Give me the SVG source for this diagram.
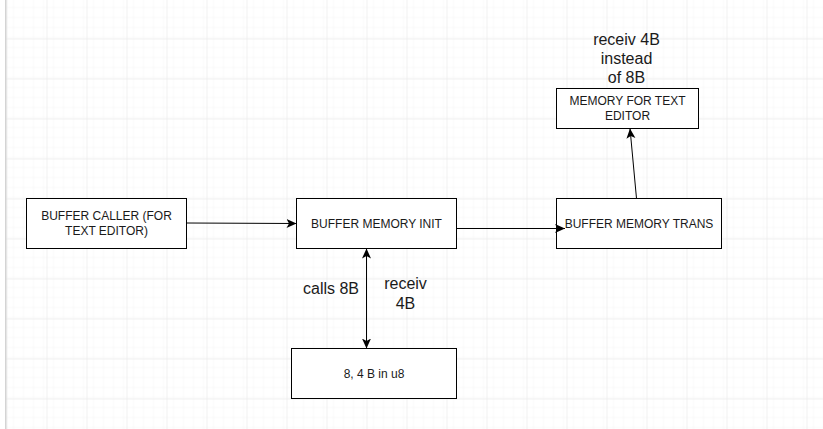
<svg xmlns="http://www.w3.org/2000/svg" width="823" height="429" viewBox="0 0 823 429">
  <style>
    .box { fill: #ffffff; stroke: #000000; stroke-width: 1; }
    .lbl { font-family: "Liberation Sans", Arial, sans-serif; font-size: 12px; fill: #1a1a1a; text-anchor: middle; }
    .edge-lbl { font-family: "Liberation Sans", Arial, sans-serif; font-size: 16px; fill: #1a1a1a; text-anchor: middle; }
    .conn { fill: none; stroke: #000000; stroke-width: 1; }
  </style>
  <defs>
    <pattern id="minor" patternUnits="userSpaceOnUse" x="6.5" y="8.5" width="10" height="10">
      <path d="M0,0 H10 M0,0 V10" stroke="#f3f3f3" stroke-width="1" fill="none"/>
    </pattern>
    <pattern id="major" patternUnits="userSpaceOnUse" x="6.5" y="-1.5" width="40" height="40">
      <rect width="40" height="40" fill="url(#minor)"/>
      <path d="M0,0 H40 M0,0 V40" stroke="#e4e4e4" stroke-width="1" fill="none"/>
    </pattern>
    <marker id="arrow" markerUnits="userSpaceOnUse" markerWidth="12" markerHeight="10" refX="10" refY="4.5" orient="auto-start-reverse" viewBox="0 0 12 10">
      <path d="M0,0 L10,4.5 L0,9 L2.5,4.5 Z" fill="#000000"/>
    </marker>
  </defs>
  <rect x="0" y="0" width="823" height="429" fill="#ffffff"/>
  <rect x="6" y="0" width="817" height="429" fill="url(#major)"/>
  <rect x="5" y="0" width="1.5" height="429" fill="#d4d4d4"/>

  <g id="edge-labels">
    <text class="edge-lbl" x="331" y="294">calls 8B</text>
    <text class="edge-lbl" x="405.5" y="289">receiv</text>
    <text class="edge-lbl" x="405.5" y="308.5">4B</text>
    <text class="edge-lbl" x="626.5" y="45">receiv 4B</text>
    <text class="edge-lbl" x="626.5" y="64">instead</text>
    <text class="edge-lbl" x="626.5" y="83">of 8B</text>
  </g>

  <g id="node-caller">
    <rect class="box" x="26.5" y="198.5" width="160" height="50"/>
    <text class="lbl" x="106.5" y="219.5">BUFFER CALLER (FOR</text>
    <text class="lbl" x="106.5" y="234.5">TEXT EDITOR)</text>
  </g>
  <g id="node-init">
    <rect class="box" x="296.5" y="198.5" width="160" height="50"/>
    <text class="lbl" x="376.5" y="227.5">BUFFER MEMORY INIT</text>
  </g>
  <g id="node-trans">
    <rect class="box" x="556.5" y="198.5" width="165" height="50"/>
    <text class="lbl" x="639" y="227.5">BUFFER MEMORY TRANS</text>
  </g>
  <g id="node-memory">
    <rect class="box" x="556.5" y="88.5" width="142" height="40"/>
    <text class="lbl" x="627.5" y="104.5">MEMORY FOR TEXT</text>
    <text class="lbl" x="627.5" y="119.5">EDITOR</text>
  </g>
  <g id="node-u8">
    <rect class="box" x="291.5" y="348.5" width="165" height="50"/>
    <text class="lbl" x="374" y="377.5">8, 4 B in u8</text>
  </g>

  <g id="connectors">
    <path class="conn" d="M186.5,223 L296.5,223.5" marker-end="url(#arrow)"/>
    <path class="conn" d="M456.5,228.5 L565,228.5" marker-end="url(#arrow)"/>
    <path class="conn" d="M366.5,248.5 L366.5,348.5" marker-start="url(#arrow)" marker-end="url(#arrow)"/>
    <path class="conn" d="M636.5,198.5 L630,128.5" marker-end="url(#arrow)"/>
  </g>
</svg>
